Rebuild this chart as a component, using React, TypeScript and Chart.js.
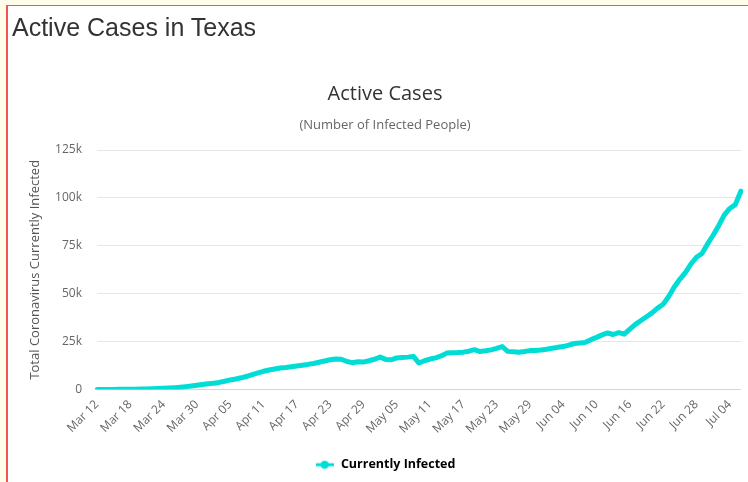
import React, { useEffect, useRef } from 'react';
import { Chart, registerables } from 'chart.js';

Chart.register(...registerables);

// ---- Data ----
const PAGE_TITLE = 'Active Cases in Texas';
const CHART_TITLE = 'Active Cases';
const CHART_SUBTITLE = '(Number of Infected People)';
const Y_TITLE = 'Total Coronavirus Currently Infected';
const SERIES_NAME = 'Currently Infected';

const MONTHS = ['Mar', 'Apr', 'May', 'Jun', 'Jul'];
const MONTH_DAYS = [31, 30, 31, 30, 31];
const START_DAY = 12; // Mar 12
const DAY_COUNT = 117; // through Jul 06

const activeCases = [
  20, 30, 40, 55, 70, 90, 120, 160, 210, 280,
  360, 460, 600, 760, 950, 1200, 1500, 1850, 2250, 2650,
  3000, 3300, 3700, 4300, 5000, 5500, 6100, 6900, 7800, 8700,
  9500, 10200, 10700, 11200, 11500, 11900, 12300, 12700, 13100, 13600,
  14200, 14900, 15500, 15900, 15800, 14600, 14000, 14500, 14300, 15000,
  15800, 16900, 15700, 15500, 16500, 16700, 16900, 17300, 13800, 15000,
  15900, 16500, 17500, 19000, 19200, 19300, 19500, 20000, 20800, 19800,
  20200, 20700, 21500, 22400, 19900, 19700, 19400, 19800, 20300, 20300,
  20600, 21000, 21500, 22000, 22400, 23200, 24000, 24300, 24600, 26000,
  27200, 28500, 29500, 28700, 29700, 28900, 31500, 34000, 36000, 38000,
  40000, 42500, 44500, 48500, 53500, 57500, 61000, 65500, 69000, 71000,
  76000, 80500, 85500, 91000, 94500, 96500, 103500,
];

const Y_MIN = 0;
const Y_MAX = 125000;
const Y_STEP = 25000;
const X_LABEL_EVERY = 6;

function buildDateLabels(): string[] {
  const out: string[] = [];
  let m = 0;
  let d = START_DAY;
  for (let i = 0; i < DAY_COUNT; i++) {
    out.push(`${MONTHS[m]} ${String(d).padStart(2, '0')}`);
    d++;
    if (d > MONTH_DAYS[m]) {
      d = 1;
      m++;
    }
  }
  return out;
}
const dateLabels = buildDateLabels();

const LINE_COLOR = '#00dcd6';
const FONT = '"Open Sans", "Noto Sans", sans-serif';

function makeLegendSymbol(): HTMLCanvasElement {
  const c = document.createElement('canvas');
  c.width = 18;
  c.height = 10;
  const ctx = c.getContext('2d')!;
  ctx.strokeStyle = LINE_COLOR;
  ctx.lineWidth = 3;
  ctx.beginPath();
  ctx.moveTo(0, 5);
  ctx.lineTo(18, 5);
  ctx.stroke();
  ctx.fillStyle = LINE_COLOR;
  ctx.beginPath();
  ctx.arc(9, 5, 4, 0, Math.PI * 2);
  ctx.fill();
  return c;
}

export default function App() {
  const ref = useRef<HTMLCanvasElement>(null);

  useEffect(() => {
    document.body.style.margin = '0';
    const symbol = makeLegendSymbol();
    const chart = new Chart(ref.current!, {
      type: 'line',
      data: {
        labels: dateLabels,
        datasets: [
          {
            label: SERIES_NAME,
            data: activeCases,
            borderColor: LINE_COLOR,
            backgroundColor: LINE_COLOR,
            borderWidth: 5,
            pointRadius: 0,
            pointHoverRadius: 0,
            tension: 0,
            borderJoinStyle: 'round',
            borderCapStyle: 'round',
            fill: false,
          },
        ],
      },
      options: {
        responsive: false,
        animation: false,
        maintainAspectRatio: false,
        layout: { padding: { top: 72, left: 25, right: 3, bottom: 1 } },
        plugins: {
          title: {
            display: true,
            text: CHART_TITLE,
            color: '#333333',
            font: { family: FONT, size: 20, weight: 'normal' },
            padding: { top: 10, bottom: 10 },
          },
          subtitle: {
            display: true,
            text: CHART_SUBTITLE,
            color: '#666666',
            font: { family: FONT, size: 13, weight: 'normal' },
            padding: { top: 1, bottom: 17.4 },
          },
          legend: {
            display: true,
            position: 'bottom',
            labels: {
              color: '#333333',
              font: { family: FONT, size: 12.5, weight: 'bold' },
              usePointStyle: true,
              pointStyleWidth: 20,
              padding: 10,
              generateLabels: () => [
                {
                  text: SERIES_NAME,
                  fillStyle: LINE_COLOR,
                  strokeStyle: LINE_COLOR,
                  pointStyle: symbol as any,
                  hidden: false,
                  datasetIndex: 0,
                  lineWidth: 0,
                },
              ],
            },
          },
          tooltip: { enabled: false },
        },
        scales: {
          x: {
            type: 'category',
            offset: false,
            grid: { display: false, drawTicks: false },
            border: { display: true, color: '#ccd6eb', width: 1 },
            ticks: {
              autoSkip: false,
              maxRotation: 45,
              minRotation: 45,
              padding: 8,
              color: '#666666',
              font: { family: FONT, size: 12 },
              callback: function (this: any, value: any, index: number) {
                return index % X_LABEL_EVERY === 0 ? dateLabels[index] : null;
              },
            },
            afterFit: (scale: any) => {
              scale.height = 59;
            },
          },
          y: {
            min: Y_MIN,
            max: Y_MAX,
            grid: { color: '#e6e6e6', drawTicks: false, lineWidth: 1 },
            border: { display: false },
            ticks: {
              stepSize: Y_STEP,
              padding: 15,
              color: '#666666',
              font: { family: FONT, size: 12 },
              callback: (v: any) => (Number(v) === 0 ? '0' : `${Number(v) / 1000}k`),
            },
            title: {
              display: true,
              text: Y_TITLE,
              color: '#555555',
              font: { family: FONT, size: 13 },
              padding: { top: 2, bottom: 0 },
            },
            afterFit: (scale: any) => {
              scale.width = 72;
            },
          },
        },
      },
    });
    return () => chart.destroy();
  }, []);

  return (
    <div
      style={{
        position: 'relative',
        width: 748,
        height: 482,
        background: '#fffde9',
        overflow: 'hidden',
      }}
    >
      <div
        style={{
          position: 'absolute',
          left: 6,
          top: 5,
          right: 0,
          bottom: 0,
          background: '#ffffff',
          borderTop: '1px solid #f25454',
          borderLeft: '2px solid #f25454',
        }}
      />
      <canvas
        ref={ref}
        width={748}
        height={482}
        style={{ position: 'absolute', left: 0, top: 0, width: 748, height: 482 }}
      />
      <div
        style={{
          position: 'absolute',
          left: 12,
          top: 13,
          fontFamily: '"Liberation Sans", Arial, sans-serif',
          fontSize: 25,
          color: '#333333',
          whiteSpace: 'nowrap',
        }}
      >
        {PAGE_TITLE}
      </div>
    </div>
  );
}
